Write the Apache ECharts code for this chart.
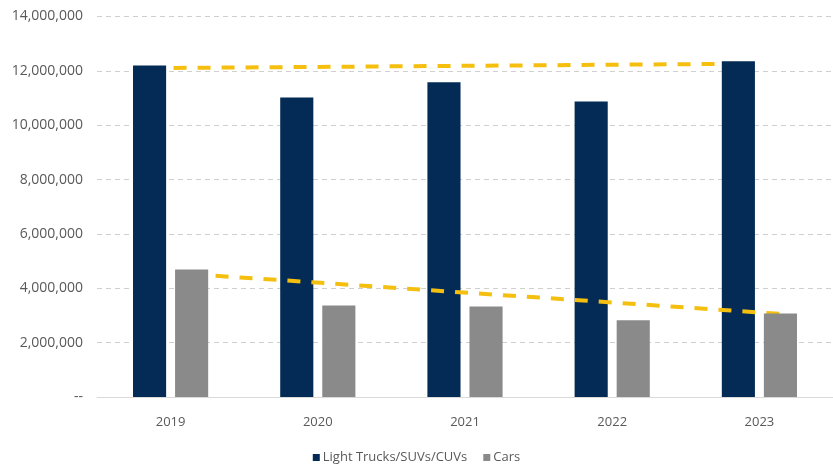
<!DOCTYPE html>
<html>
<head>
<meta charset="utf-8">
<script src="https://cdn.jsdelivr.net/npm/echarts@6/dist/echarts.min.js"></script>
<style>
html,body{margin:0;padding:0;background:#fff;}
#chart{width:833px;height:464px;}
</style>
</head>
<body>
<div id="chart"></div>
<script>
var categories = ['2019', '2020', '2021', '2022', '2023'];
var trucks = [12200000, 11020000, 11580000, 10870000, 12350000];
var cars = [4690000, 3370000, 3330000, 2820000, 3070000];
// dashed trend lines: value at first (2019) and last (2023) category
var trucksTrend = [12100000, 12260000];
var carsTrend = [4520000, 3060000];
var yTicks = [0, 2000000, 4000000, 6000000, 8000000, 10000000, 12000000, 14000000];

var BAR_W = 0.225, BAR_GAP = 0.27;
var off = (BAR_W + BAR_W * BAR_GAP) / 2;
var last = categories.length - 1;

var font = '"Open Sans", "Noto Sans", sans-serif';
var chart = echarts.init(document.getElementById('chart'));
chart.setOption({
  animation: false,
  backgroundColor: '#fff',
  textStyle: { fontFamily: font },
  grid: { left: 97, right: 0, top: 16.5, bottom: 67, containLabel: false },
  legend: {
    data: ['Light Trucks/SUVs/CUVs', 'Cars'],
    top: 446,
    left: 'center',
    itemWidth: 7,
    itemHeight: 7,
    itemGap: 16,
    icon: 'rect',
    textStyle: { color: '#595959', fontSize: 13, fontFamily: font, padding: [0, 0, 0, -2] }
  },
  xAxis: [{
    type: 'category',
    data: categories,
    axisLine: { show: true, lineStyle: { color: '#d9d9d9', width: 1 } },
    axisTick: { show: false },
    axisLabel: { color: '#595959', fontSize: 13, margin: 19, fontFamily: font }
  }, {
    type: 'value',
    min: -0.5,
    max: categories.length - 0.5,
    show: false
  }],
  yAxis: {
    type: 'value',
    min: yTicks[0],
    max: yTicks[yTicks.length - 1],
    interval: yTicks[1] - yTicks[0],
    axisLine: { show: false },
    axisTick: { show: false },
    splitLine: { show: true, lineStyle: { color: '#d0d0d0', type: [5, 4], width: 1 } },
    axisLabel: {
      color: '#595959', fontSize: 14, margin: 14, fontFamily: font,
      formatter: function (v) { return v === 0 ? '--' : v.toLocaleString('en-US'); }
    }
  },
  series: [{
    name: 'trucksTrend',
    type: 'line',
    xAxisIndex: 1,
    z: 1,
    symbol: 'none',
    data: [[0 - off, trucksTrend[0]], [last - off, trucksTrend[1]]],
    lineStyle: { color: '#F5BF10', width: 4, type: [13, 11] },
    silent: true
  }, {
    name: 'Light Trucks/SUVs/CUVs',
    type: 'bar',
    z: 2,
    data: trucks,
    barWidth: (BAR_W * 100) + '%',
    barGap: (BAR_GAP * 100) + '%',
    itemStyle: { color: '#032B55' }
  }, {
    name: 'carsTrend',
    type: 'line',
    xAxisIndex: 1,
    z: 3,
    symbol: 'none',
    data: [[0 + off, carsTrend[0]], [last + off, carsTrend[1]]],
    lineStyle: { color: '#F5BF10', width: 4, type: [13, 11] },
    silent: true
  }, {
    name: 'Cars',
    type: 'bar',
    z: 4,
    data: cars,
    barWidth: (BAR_W * 100) + '%',
    barGap: (BAR_GAP * 100) + '%',
    itemStyle: { color: '#8A8A8A' }
  }]
});
</script>
</body>
</html>
